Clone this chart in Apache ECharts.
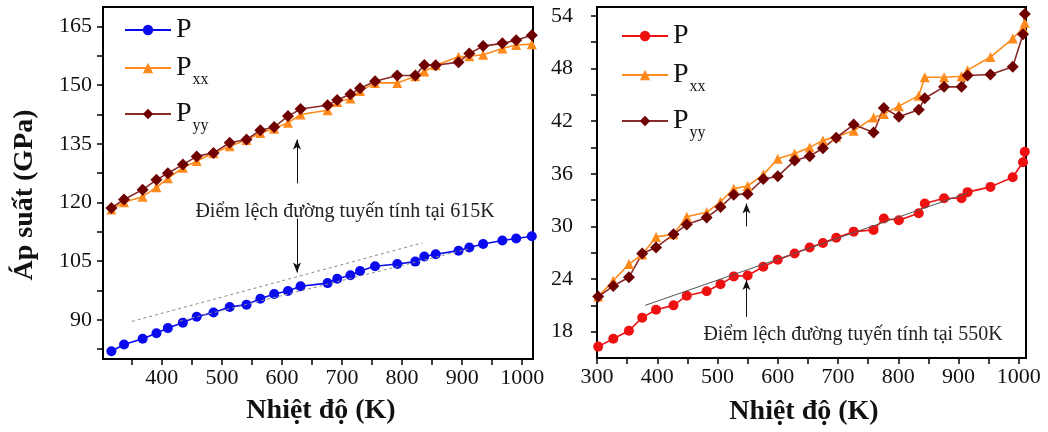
<!DOCTYPE html>
<html>
<head>
<meta charset="utf-8">
<script src="https://cdn.jsdelivr.net/npm/echarts@6/dist/echarts.min.js"></script>
<style>
  html, body { margin: 0; padding: 0; background: #fff; }
  #main { width: 1048px; height: 432px; }
</style>
</head>
<body>
<div id="main"></div>
<script>
// nhiệt độ (K) - panel trái
const tempLeft = [316, 337, 368, 391, 410, 435, 458, 486, 513, 541, 564, 587, 610, 631, 676, 692, 714, 730, 755, 792, 822, 837, 856, 894, 912, 935, 967, 990, 1016];
const pLeft = [82.0, 83.7, 85.2, 86.6, 87.9, 89.3, 90.8, 91.9, 93.3, 93.9, 95.4, 96.6, 97.4, 98.6, 99.4, 100.5, 101.4, 102.5, 103.7, 104.3, 104.9, 106.2, 106.8, 107.7, 108.5, 109.4, 110.3, 110.8, 111.4];
const pxxLeft = [118.2, 120.1, 121.5, 123.9, 126.2, 128.9, 130.6, 132.6, 134.4, 136.0, 137.8, 138.9, 140.4, 142.5, 143.6, 145.7, 146.6, 148.5, 150.6, 150.6, 152.3, 153.5, 155.1, 157.3, 157.4, 157.8, 159.4, 160.3, 160.5];
const pyyLeft = [118.6, 120.8, 123.3, 125.8, 127.5, 129.7, 131.8, 132.7, 135.3, 136.1, 138.5, 139.3, 142.1, 143.9, 144.9, 146.2, 147.7, 149.2, 151.0, 152.5, 152.5, 155.2, 155.1, 155.9, 158.1, 160.0, 160.7, 161.5, 162.8];

// nhiệt độ (K) - panel phải
const tempRight = [302, 327, 353, 375, 398, 427, 449, 482, 505, 527, 550, 576, 600, 628, 653, 675, 697, 726, 759, 776, 801, 834, 844, 876, 905, 915, 953, 990, 1007, 1010];
const pRight = [16.3, 17.2, 18.1, 19.6, 20.5, 21.0, 22.1, 22.6, 23.4, 24.3, 24.4, 25.4, 26.2, 26.9, 27.6, 28.1, 28.7, 29.4, 29.6, 30.9, 30.7, 31.5, 32.6, 33.2, 33.2, 33.9, 34.5, 35.6, 37.3, 38.5];
const pxxRight = [22.0, 23.8, 25.7, 26.8, 28.8, 29.1, 31.1, 31.6, 32.8, 34.3, 34.6, 35.9, 37.7, 38.3, 39.0, 39.8, 40.2, 40.9, 42.4, 42.8, 43.7, 44.9, 47.0, 47.0, 47.1, 47.8, 49.3, 51.4, 52.6, 53.2];
const pyyRight = [22.0, 23.2, 24.2, 26.9, 27.6, 29.1, 30.2, 31.0, 32.2, 33.6, 33.7, 35.4, 35.7, 37.5, 38.0, 38.9, 40.1, 41.6, 40.7, 43.5, 42.5, 43.3, 44.6, 45.9, 45.9, 47.2, 47.3, 48.2, 51.9, 54.2];

// nhãn trục
const xLabelsLeft = [400, 500, 600, 700, 800, 900, 1000];
const xTicksLeft = [350, 400, 450, 500, 550, 600, 650, 700, 750, 800, 850, 900, 950, 1000];
const yLabelsLeft = [90, 105, 120, 135, 150, 165];
const yTicksLeft = [82.5, 90, 97.5, 105, 112.5, 120, 127.5, 135, 142.5, 150, 157.5, 165];
const xLabelsRight = [300, 400, 500, 600, 700, 800, 900, 1000];
const xTicksRight = [300, 350, 400, 450, 500, 550, 600, 650, 700, 750, 800, 850, 900, 950, 1000];
const yLabelsRight = [18, 24, 30, 36, 42, 48, 54];
const yTicksRight = [18, 21, 24, 27, 30, 33, 36, 39, 42, 45, 48, 51, 54];

// đường tuyến tính + mũi tên (toạ độ dữ liệu)
const fitLeftA = [[350, 89.6], [834, 109.7]];
const fitLeftB = [[430, 89.7], [912, 108.2]];
const arrowsLeft = [[[625, 124.9], [625, 136.1]], [[625, 115.9], [625, 102.1]]];
const fitRight = [[380, 21.0], [915, 33.8]];
const arrowsRight = [[[548, 19.7], [548, 23.9]], [[548, 30.0], [548, 32.6]]];

const SERIF = '"Liberation Serif", "Times New Roman", serif';

function zip(xs, ys) {
  return xs.map((x, i) => [x, ys[i]]);
}

function xAxis(idx, min, max, labels, ticks) {
  return {
    type: "value",
    gridIndex: idx,
    min: min,
    max: max,
    axisLine: { lineStyle: { color: "#000", width: 2 } },
    axisTick: { inside: false, length: 6, customValues: ticks, lineStyle: { color: "#000", width: 1.5 } },
    axisLabel: {
      customValues: labels,
      formatter: (v) => String(v),
      color: "#111",
      fontFamily: SERIF,
      fontSize: 22,
      margin: 8,
    },
    splitLine: { show: false },
  };
}

function yAxis(idx, min, max, labels, ticks, margin) {
  return {
    type: "value",
    gridIndex: idx,
    min: min,
    max: max,
    axisLine: { show: true, lineStyle: { color: "#000", width: 2 } },
    axisTick: { show: true, inside: false, length: 6, customValues: ticks, lineStyle: { color: "#000", width: 1.5 } },
    axisLabel: {
      customValues: labels,
      formatter: (v) => String(v),
      color: "#111",
      fontFamily: SERIF,
      fontSize: 22,
      margin: margin,
    },
    splitLine: { show: false },
  };
}

function lineSeries(name, idx, data, color, symbol, size, lineColor, markLine) {
  const s = {
    name: name,
    type: "line",
    xAxisIndex: idx,
    yAxisIndex: idx,
    data: data,
    symbol: symbol,
    symbolSize: size,
    showAllSymbol: true,
    lineStyle: { color: lineColor || color, width: 1.6 },
    itemStyle: { color: color },
    animation: false,
  };
  if (markLine) s.markLine = markLine;
  return s;
}

function guides(fits, fitStyle, arrows) {
  const data = [];
  fits.forEach((f) => {
    data.push([
      { coord: f[0], symbol: "none", lineStyle: fitStyle },
      { coord: f[1], symbol: "none" },
    ]);
  });
  arrows.forEach((a) => {
    data.push([
      { coord: a[0], symbol: "none", lineStyle: { color: "#111", width: 1, type: "solid" } },
      { coord: a[1], symbol: "arrow", symbolSize: [6, 10] },
    ]);
  });
  return { silent: true, animation: false, label: { show: false }, data: data };
}

const legendRich = {
  m: { fontFamily: SERIF, fontSize: 28, lineHeight: 28, color: "#111" },
  s: { fontFamily: SERIF, fontSize: 16, lineHeight: 16, padding: [24, 0, 0, 1], color: "#111" },
};

function legendItem(name, left, top, text) {
  return {
    data: [name],
    left: left,
    top: top,
    orient: "vertical",
    itemWidth: 46,
    itemHeight: 13,
    itemGap: 0,
    selectedMode: false,
    textStyle: { rich: legendRich },
    formatter: () => text,
  };
}

const option = {
  backgroundColor: "#fff",
  grid: [
    { left: 103, top: 7, width: 430, height: 352, show: true, borderColor: "#000", borderWidth: 2 },
    { left: 597, top: 7, width: 429, height: 351, show: true, borderColor: "#000", borderWidth: 2 },
  ],
  xAxis: [
    xAxis(0, 302, 1018, xLabelsLeft, xTicksLeft),
    xAxis(1, 300, 1012, xLabelsRight, xTicksRight),
  ],
  yAxis: [
    yAxis(0, 80, 170, yLabelsLeft, yTicksLeft, 11),
    yAxis(1, 15, 55, yLabelsRight, yTicksRight, 24),
  ],
  legend: [
    legendItem("P", 119, 11, "{m|P}"),
    legendItem("Pxx", 119, 43, "{m|P}{s|xx}"),
    legendItem("Pyy", 119, 89, "{m|P}{s|yy}"),
    legendItem("P ", 616, 17, "{m|P}"),
    legendItem("Pxx ", 616, 50, "{m|P}{s|xx}"),
    legendItem("Pyy ", 616, 96, "{m|P}{s|yy}"),
  ],
  series: [
    lineSeries("P", 0, zip(tempLeft, pLeft), "#0a0aee", "circle", 10, null,
      guides([fitLeftA, fitLeftB], { color: "#8a8a8a", width: 1, type: [3, 3] }, arrowsLeft)),
    lineSeries("Pxx", 0, zip(tempLeft, pxxLeft), "#ff8a1c", "triangle", 10),
    lineSeries("Pyy", 0, zip(tempLeft, pyyLeft), "#700000", "diamond", 12, "#8a2a2a"),
    lineSeries("P ", 1, zip(tempRight, pRight), "#ee1111", "circle", 10, null,
      guides([fitRight], { color: "#555", width: 1, type: "solid" }, arrowsRight)),
    lineSeries("Pxx ", 1, zip(tempRight, pxxRight), "#ff8a1c", "triangle", 10),
    lineSeries("Pyy ", 1, zip(tempRight, pyyRight), "#700000", "diamond", 12, "#8a2a2a"),
  ],
  graphic: [
    {
      type: "text", x: 25, y: 195, rotation: Math.PI / 2,
      style: { text: "Áp suất (GPa)", fontFamily: SERIF, fontSize: 28, fontWeight: "bold", fill: "#111", align: "center", verticalAlign: "middle" },
    },
    {
      type: "text", x: 321, y: 411,
      style: { text: "Nhiệt độ (K)", fontFamily: SERIF, fontSize: 28, fontWeight: "bold", fill: "#111", align: "center", verticalAlign: "middle" },
    },
    {
      type: "text", x: 804, y: 412,
      style: { text: "Nhiệt độ (K)", fontFamily: SERIF, fontSize: 28, fontWeight: "bold", fill: "#111", align: "center", verticalAlign: "middle" },
    },
    {
      type: "text", x: 345, y: 212,
      style: { text: "Điểm lệch đường tuyến tính tại 615K", fontFamily: SERIF, fontSize: 20, fill: "#222", align: "center", verticalAlign: "middle" },
    },
    {
      type: "text", x: 853, y: 335,
      style: { text: "Điểm lệch đường tuyến tính tại 550K", fontFamily: SERIF, fontSize: 20, fill: "#222", align: "center", verticalAlign: "middle" },
    },
  ],
};

const myChart = echarts.init(document.getElementById("main"));
myChart.setOption(option);
</script>
</body>
</html>
